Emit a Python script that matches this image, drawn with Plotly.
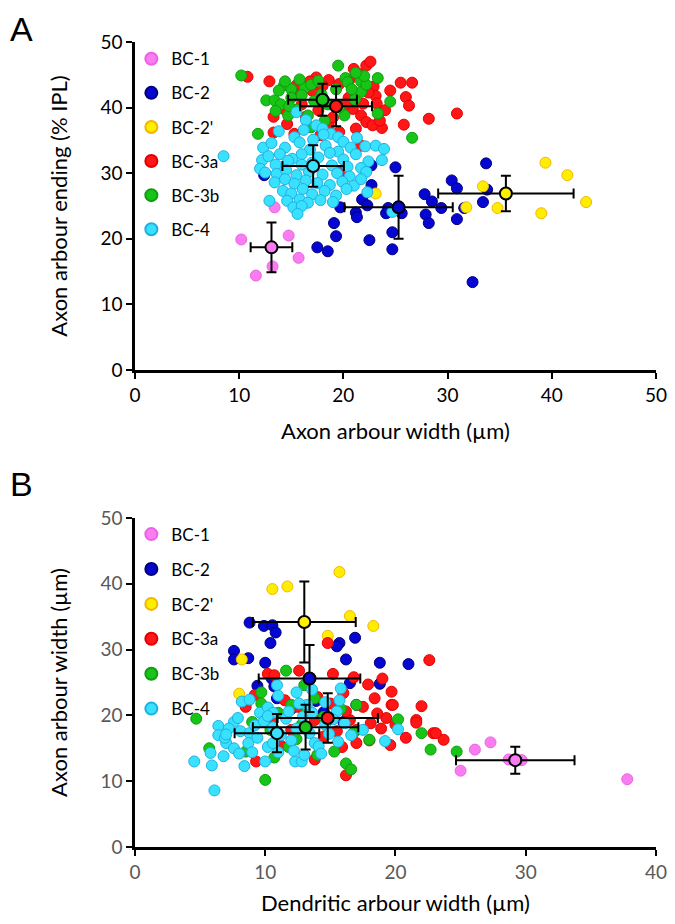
import plotly.graph_objects as go
from plotly.subplots import make_subplots

# ---- panel A : axon arbour width (x) vs axon ending depth (y) ----
a_bc1_x = [10.2, 14.75, 15.7, 13.2, 11.6, 13.4]
a_bc1_y = [19.9, 20.5, 17.1, 15.8, 14.4, 24.8]

a_bc2_x = [22.7, 25.0, 33.7, 30.4, 30.9, 27.8, 28.5, 27.9, 28.2, 29.4, 30.9, 33.4, 21.8, 22.3, 19.7, 21.2,
           21.3, 19.1, 19.3, 17.5, 18.5, 22.5, 24.7, 24.7, 24.1, 25.6, 24.3, 32.4, 12.4, 31.6, 33.8, 22.7]
a_bc2_y = [31.2, 30.9, 31.5, 28.9, 27.7, 26.8, 25.7, 23.7, 22.4, 24.7, 23.0, 25.6, 26.0, 25.1, 24.8, 24.0,
           23.3, 22.4, 20.4, 18.7, 18.1, 19.8, 21.0, 18.4, 23.9, 23.9, 24.7, 13.4, 29.7, 24.7, 27.5, 28.2]

a_bc2p_x = [39.4, 41.5, 43.3, 39.0, 34.8, 33.4, 31.8, 23.1]
a_bc2p_y = [31.6, 29.7, 25.6, 23.9, 24.7, 28.0, 24.8, 26.9]

a_bc3a_x = [10.8, 12.9, 13.3, 13.3, 15.3, 14.6, 15.5, 17.4, 18.6, 19.6, 21.0, 21.4, 22.2, 22.6, 25.5, 26.6,
            24.5, 22.9, 23.1, 23.2, 26.0, 26.3, 28.2, 30.9, 25.8, 23.7, 21.7, 19.9, 21.7, 22.2, 21.2, 22.8,
            23.5, 18.6, 16.4, 17.6, 16.0, 18.2, 20.5, 20.9, 19.0, 15.2, 17.0, 20.2, 21.9, 22.4, 19.6, 17.8,
            14.5, 20.6, 16.8, 18.0, 24.0]
a_bc3a_y = [44.7, 44.0, 38.6, 36.2, 36.0, 37.5, 43.4, 44.6, 44.2, 43.6, 45.9, 45.2, 46.4, 47.0, 43.8, 43.8,
            42.6, 43.2, 41.8, 40.6, 41.6, 40.3, 38.3, 39.1, 37.4, 36.9, 34.2, 30.4, 38.8, 37.8, 36.8, 37.3,
            38.0, 37.3, 38.6, 39.6, 40.5, 41.0, 41.5, 39.8, 38.5, 42.2, 42.6, 40.5, 40.6, 42.3, 36.3, 35.8,
            39.5, 44.3, 44.0, 43.3, 39.6]

a_bc3b_x = [10.2, 11.8, 12.6, 13.4, 14.3, 13.8, 15.0, 16.3, 16.9, 17.6, 19.5, 20.2, 20.4, 21.7, 23.3, 21.7,
            21.1, 20.1, 16.9, 16.6, 14.7, 15.5, 14.0, 24.5, 23.3, 26.6, 15.0, 16.0, 17.2, 18.5, 19.3, 20.8,
            22.2, 13.5, 14.8, 18.2, 19.6, 15.8, 22.0, 21.2, 14.4, 17.9]
a_bc3b_y = [44.9, 36.0, 41.1, 41.1, 43.4, 42.6, 42.8, 43.0, 43.5, 44.1, 46.4, 44.5, 43.9, 44.0, 44.5, 42.4,
            41.2, 38.8, 37.0, 38.8, 38.8, 39.7, 40.5, 40.9, 39.1, 35.4, 41.5, 41.9, 41.0, 40.5, 42.8, 42.8,
            43.5, 39.5, 40.2, 38.0, 40.0, 44.3, 44.8, 45.3, 44.0, 42.0]

a_bc4_x = [8.5, 12.3, 12.2, 12.0, 12.9, 15.5, 16.4, 17.4, 18.0, 18.8, 19.5,
           13.8, 15.3, 16.2, 17.1, 18.1, 20.0, 21.3, 13.1, 14.4, 15.8, 16.8, 18.3, 19.5, 20.7, 22.1,
           12.8, 13.9, 15.1, 16.0, 17.6, 18.7, 20.0, 21.2, 22.4, 13.5, 14.7, 16.0, 17.0, 18.9, 20.4, 21.7,
           12.5, 13.6, 14.5, 15.5, 16.7, 18.0, 19.4, 20.6, 13.4, 14.4, 15.3, 16.4, 17.5, 18.7, 19.9, 21.0,
           14.2, 15.0, 16.1, 17.0, 18.2, 19.3, 20.3, 14.6, 15.8, 16.6, 17.8, 19.0, 15.2, 16.0, 15.6,
           23.1, 23.9, 23.7, 22.2, 21.7, 22.3, 24.7]
a_bc4_y = [32.6, 33.9, 32.0, 30.7, 25.8, 39.3, 38.1, 37.3, 36.8, 36.0, 35.5,
           36.4, 35.5, 36.6, 35.1, 35.9, 34.8, 35.4, 34.6, 33.9, 34.7, 33.6, 34.2, 33.3, 33.9, 34.1,
           32.6, 32.9, 32.2, 32.9, 32.4, 33.1, 32.1, 32.9, 31.8, 31.3, 31.9, 31.3, 31.6, 31.2, 31.0, 30.8,
           30.1, 29.9, 30.5, 29.7, 30.2, 29.8, 30.0, 29.5, 28.6, 29.1, 28.4, 28.9, 28.5, 28.2, 28.7, 28.1,
           27.3, 26.9, 27.6, 26.8, 27.3, 26.6, 27.6, 25.8, 26.0, 25.5, 25.9, 25.6, 24.8, 25.0, 23.8,
           34.2, 33.7, 32.0, 30.2, 29.1, 27.1, 24.1]

# group means and SD (order: BC-1, BC-2, BC-2', BC-3a, BC-3b, BC-4)
a_mean_x = [13.1, 25.3, 35.6, 19.3, 18.0, 17.1]
a_mean_y = [18.7, 24.8, 26.9, 40.2, 41.2, 31.1]
a_sd_x = [2.0, 5.2, 6.5, 3.45, 3.3, 2.95]
a_sd_y = [3.8, 4.8, 2.7, 3.05, 2.45, 3.15]

# ---- panel B : dendritic arbour width (x) vs axon arbour width (y) ----
b_bc1_x = [26.1, 27.3, 25.0, 28.7, 29.7, 37.8]
b_bc1_y = [14.8, 15.9, 11.6, 13.3, 13.2, 10.3]

b_bc2_x = [8.8, 9.9, 10.55, 10.8, 10.4, 7.6, 7.6, 8.7, 10.0, 16.9, 15.7, 15.5, 16.2, 18.8, 21.0, 18.8,
           16.5, 9.4, 10.7, 10.9, 10.5, 13.9, 17.0, 12.0, 14.5, 16.0]
b_bc2_y = [34.1, 33.6, 33.7, 32.6, 31.0, 29.8, 28.5, 28.7, 28.0, 31.8, 31.0, 30.5, 28.5, 28.0, 27.8, 24.8,
           24.9, 24.5, 24.4, 22.6, 25.6, 22.2, 21.6, 21.0, 20.5, 19.0]

b_bc2p_x = [10.55, 11.7, 15.7, 16.5, 18.3, 14.8, 8.2, 8.0]
b_bc2p_y = [39.2, 39.6, 41.8, 35.1, 33.6, 32.1, 28.5, 23.3]

b_bc3a_x = [14.8, 12.6, 10.2, 15.2, 16.8, 17.9, 22.6, 19.7, 19.7, 22.0, 21.6, 22.9, 18.9, 19.3, 19.6, 15.9,
            16.2, 13.8, 9.3, 9.2, 8.5, 18.1, 17.5, 16.5, 15.0, 16.0, 14.0, 13.8, 12.5, 11.5, 10.5, 14.5,
            17.0, 18.6, 10.7, 23.7, 23.1, 21.6, 19.8, 20.0, 18.4, 17.0, 15.5, 12.0, 11.2, 19.0, 16.2, 20.8, 18.0]
b_bc3a_y = [31.0, 26.8, 26.3, 26.3, 25.8, 24.7, 28.4, 23.6, 21.6, 21.4, 19.3, 17.3, 18.0, 19.6, 15.5, 15.2,
            10.9, 13.3, 13.0, 23.1, 21.3, 18.8, 21.3, 19.3, 21.8, 23.4, 22.8, 19.3, 21.3, 22.3, 19.3, 16.8,
            17.8, 20.3, 26.1, 16.3, 17.3, 18.9, 21.6, 18.6, 22.6, 15.8, 17.6, 17.8, 15.4, 25.6, 20.6, 16.6, 16.2]

b_bc3b_x = [4.7, 5.7, 10.0, 16.2, 16.6, 20.2, 22.0, 22.7, 24.7, 18.0, 17.0, 11.6, 9.7, 9.7, 12.0, 11.0,
            13.2, 13.0, 10.7, 8.5, 15.3, 14.0, 11.8, 12.8, 14.5, 15.8, 13.8, 10.4, 9.0, 16.8, 12.4]
b_bc3b_y = [19.5, 15.0, 10.2, 12.7, 11.8, 19.4, 17.3, 14.8, 14.5, 16.3, 21.6, 26.8, 23.5, 21.8, 21.6, 20.4,
            20.8, 24.6, 13.6, 14.5, 14.5, 14.0, 15.2, 18.6, 19.8, 21.0, 22.6, 17.8, 19.0, 17.4, 16.4]

b_bc4_x = [4.55, 6.1, 5.9, 5.8, 6.8, 8.4, 10.0, 12.3, 12.8,
           10.9, 12.4, 13.6, 15.8, 15.7, 15.5, 8.2, 8.8, 9.6, 10.2, 10.6, 11.0, 14.6, 13.2,
           6.4, 6.4, 7.0, 7.6, 7.6, 7.9, 7.2, 8.1, 8.8, 8.7, 9.4, 10.2, 9.2, 9.9, 10.6, 11.2, 11.6, 12.0,
           12.4, 12.9, 13.4, 13.8, 14.1, 14.3, 11.0, 10.6, 12.2, 13.0, 14.6, 14.9, 15.2, 15.6, 16.6, 17.5,
           19.2, 20.2, 16.1, 11.8, 9.0, 8.0, 6.9, 13.6, 12.6, 10.2, 7.0]
b_bc4_y = [13.0, 8.6, 12.4, 14.3, 13.8, 12.3, 13.0, 13.0, 13.0,
           24.6, 23.5, 23.9, 24.1, 22.3, 20.6, 22.1, 22.4, 20.4, 21.2, 20.4, 23.0, 22.0, 21.6,
           18.4, 17.0, 15.8, 15.0, 19.0, 19.6, 18.0, 17.6, 17.3, 15.8, 16.6, 15.2, 18.5, 19.1, 18.2, 17.0,
           19.5, 16.2, 18.0, 19.8, 17.3, 15.8, 15.3, 14.2, 14.4, 15.8, 14.6, 14.0, 18.6, 17.2, 19.4, 16.0,
           17.0, 17.8, 16.1, 17.9, 18.8, 20.6, 14.4, 14.2, 16.6, 20.4, 21.8, 19.9, 17.1]

b_mean_x = [29.2, 13.4, 13.0, 14.8, 13.1, 10.9]
b_mean_y = [13.2, 25.6, 34.2, 19.6, 18.2, 17.3]
b_sd_x = [4.55, 3.9, 3.95, 3.85, 4.05, 3.25]
b_sd_y = [2.05, 5.1, 6.15, 3.75, 3.4, 2.9]

names = ["BC-1", "BC-2", "BC-2'", "BC-3a", "BC-3b", "BC-4"]
fills = ["#F97CF1", "#0606D2", "#FFEE00", "#FF1616", "#18C418", "#38E2FF"]
edges = ["#EC62E4", "#00007A", "#F2B600", "#E40000", "#0E9E0E", "#1FB0E0"]

panel_a = [(a_bc1_x, a_bc1_y), (a_bc2_x, a_bc2_y), (a_bc2p_x, a_bc2p_y),
           (a_bc3a_x, a_bc3a_y), (a_bc3b_x, a_bc3b_y), (a_bc4_x, a_bc4_y)]
panel_b = [(b_bc1_x, b_bc1_y), (b_bc2_x, b_bc2_y), (b_bc2p_x, b_bc2p_y),
           (b_bc3a_x, b_bc3a_y), (b_bc3b_x, b_bc3b_y), (b_bc4_x, b_bc4_y)]

fig = make_subplots(rows=2, cols=1)

for row, data, legend in [(1, panel_a, "legend"), (2, panel_b, "legend2")]:
    for i, (xs, ys) in enumerate(data):
        fig.add_trace(go.Scatter(
            x=xs, y=ys, mode="markers", name=names[i],
            legend=legend, legendgroup=f"{legend}{i}",
            marker=dict(size=11, color=fills[i], line=dict(color=edges[i], width=1)),
            cliponaxis=False,
        ), row=row, col=1)

# mean +/- SD markers on top
for row, mx, my, sx, sy in [(1, a_mean_x, a_mean_y, a_sd_x, a_sd_y),
                            (2, b_mean_x, b_mean_y, b_sd_x, b_sd_y)]:
    for i in range(len(names)):
        fig.add_trace(go.Scatter(
            x=[mx[i]], y=[my[i]], mode="markers", showlegend=False,
            marker=dict(size=12, color=fills[i], line=dict(color="black", width=2)),
            error_x=dict(type="data", array=[sx[i]], color="black", thickness=2, width=5),
            error_y=dict(type="data", array=[sy[i]], color="black", thickness=2, width=5),
            cliponaxis=False,
        ), row=row, col=1)

font_fam = "Lato, 'Open Sans', sans-serif"
axis_common = dict(
    showgrid=False, zeroline=False, showline=True, linecolor="black", linewidth=2.5,
    ticks="outside", ticklen=6, tickwidth=2, tickcolor="black", dtick=10,
    automargin=False, ticklabeloverflow="allow",
)

# the page body adds an 8px offset, keep the figure inside the 675x924 window
fig.update_layout(
    width=659, height=908,
    margin=dict(l=127, r=9, t=34, b=69, autoexpand=False),
    plot_bgcolor="white", paper_bgcolor="white",
    font=dict(family=font_fam, color="black"),
    xaxis=dict(domain=[0, 0.996], range=[0, 50], tickfont=dict(size=19, color="black"),
               title=dict(text="Axon arbour width (µm)", font=dict(size=22), standoff=20), **axis_common),
    yaxis=dict(domain=[0.5925, 1.0], range=[0, 50], tickfont=dict(size=19, color="black"),
               title=dict(text="Axon arbour ending (% IPL)", font=dict(size=22), standoff=27), **axis_common),
    xaxis2=dict(domain=[0, 0.996], range=[0, 40], tickfont=dict(size=19, color="#595959"),
                title=dict(text="Dendritic arbour width (µm)", font=dict(size=22), standoff=17), **axis_common),
    yaxis2=dict(domain=[0, 0.4087], range=[0, 50], tickfont=dict(size=19, color="#595959"),
                title=dict(text="Axon arbour width (µm)", font=dict(size=22), standoff=27), **axis_common),
    legend=dict(x=-0.007, y=1.001, xanchor="left", yanchor="top", bgcolor="rgba(0,0,0,0)",
                font=dict(size=17), tracegroupgap=9.0, itemsizing="constant"),
    legend2=dict(x=-0.007, y=0.4105, xanchor="left", yanchor="top", bgcolor="rgba(0,0,0,0)",
                 font=dict(size=17), tracegroupgap=9.8, itemsizing="constant"),
    annotations=[
        dict(text="A", x=0, y=1.0, xref="paper", yref="paper", xanchor="left", yanchor="top",
             xshift=-127, yshift=34, showarrow=False, font=dict(family="Liberation Sans, Arial", size=34)),
        dict(text="B", x=0, y=0.4087, xref="paper", yref="paper", xanchor="left", yanchor="top",
             xshift=-127, yshift=55, showarrow=False, font=dict(family="Liberation Sans, Arial", size=34)),
    ],
)

fig.write_html("out.html")
